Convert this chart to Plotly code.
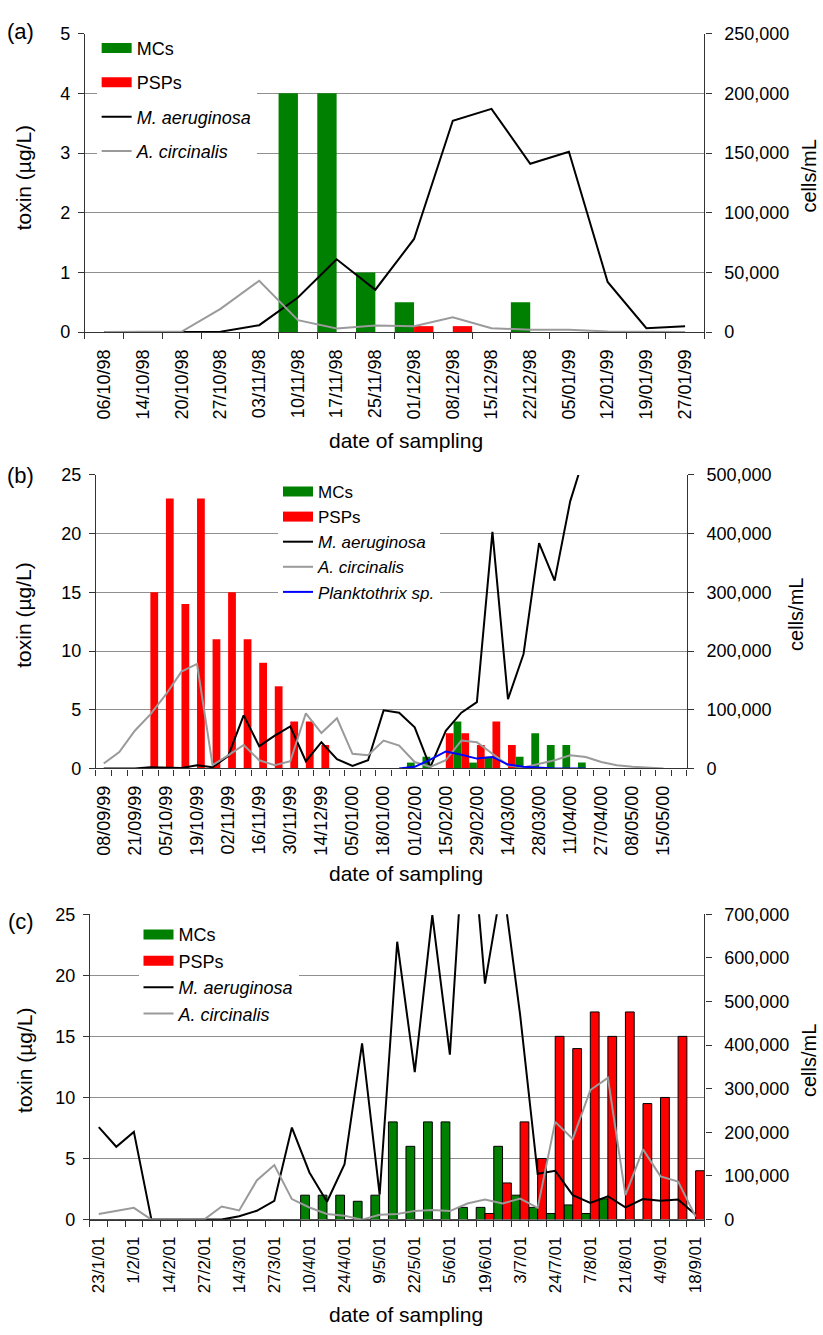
import plotly.graph_objects as go

W, H = 823, 1335
FONT = "Liberation Sans, Arial, sans-serif"
AXC = "#333333"
GRID = "#8f8f8f"
GREEN = "#008000"
RED = "#ff0000"
BLACK = "#000000"
GREY = "#9a9a9a"
BLUE = "#0000ff"

# ---------------- (a) 1998-99 ----------------
a_labels = ["06/10/98", "14/10/98", "20/10/98", "27/10/98", "03/11/98", "10/11/98",
            "17/11/98", "25/11/98", "01/12/98", "08/12/98", "15/12/98", "22/12/98",
            "05/01/99", "12/01/99", "19/01/99", "27/01/99"]
a_mcs = [0, 0, 0, 0, 0, 4, 4, 1, 0.5, 0, 0, 0.5, 0, 0, 0, 0]
a_psps = [0, 0, 0, 0, 0, 0, 0, 0, 0.1, 0.1, 0, 0, 0, 0, 0, 0]
a_maer = [0, 0, 0, 300, 5800, 29000, 61000, 35500, 78000, 177000, 187000, 141000,
          151000, 42000, 3300, 5000]
a_acir = [0, 0, 500, 19500, 43000, 10000, 3000, 5500, 5000, 12400, 3300, 2000,
          2000, 500, 0, 0]

# ---------------- (b) 1999-2000 (38 samples, every second one labelled) ----------------
b_labels = ["08/09/99", "21/09/99", "05/10/99", "19/10/99", "02/11/99", "16/11/99",
            "30/11/99", "14/12/99", "05/01/00", "18/01/00", "01/02/00", "15/02/00",
            "29/02/00", "14/03/00", "28/03/00", "11/04/00", "27/04/00", "08/05/00",
            "15/05/00"]
b_mcs = [0, 0, 0, 0, 0, 0, 0, 0, 0, 0, 0, 0, 0, 0, 0, 0, 0, 0, 0, 0,
         0.5, 1, 0, 4, 0.5, 1, 0, 1, 3, 2, 2, 0.5, 0, 0, 0, 0, 0, 0]
b_psps = [0, 0, 0, 15, 23, 14, 23, 11, 15, 11, 9, 7, 4, 4, 2, 0, 0, 0, 0, 0,
          0, 0, 3, 3, 2, 4, 2, 0, 0, 0, 0, 0, 0, 0, 0, 0, 0, 0]
b_maer = [0, 0, 0, 2000, 2000, 1000, 5600, 2000, 21000, 90500, 38000, 56000, 71500,
          12300, 44700, 15700, 4500, 14000, 99000, 95000, 70000, 2000, 64000, 95000,
          113000, 403000, 118000, 195000, 384000, 320000, 455000, 540000,
          None, None, None, None, None, None]
b_acir = [8400, 28000, 64300, 92000, 126000, 165000, 178000, 5600, 22400, 40000, 14000,
          5600, 12300, 94000, 60400, 85500, 25000, 22400, 47500, 39000, 11000, 2800,
          14000, 47500, 44700, 25000, 5600, 1700, 8400, 14000, 22400, 19600, 11000,
          5600, 2800, 1000, 0, None]
b_plank = [None] * 19 + [0, 2800, 15000, 29000, 23500, 16800, 19600, 6700, 2800, 1000,
                         0, 0, 0] + [None] * 6

# ---------------- (c) 2001 (35 samples, every second one labelled) ----------------
c_labels = ["23/1/01", "1/2/01", "14/2/01", "27/2/01", "14/3/01", "27/3/01", "10/4/01",
            "24/4/01", "9/5/01", "22/5/01", "5/6/01", "19/6/01", "3/7/01", "24/7/01",
            "7/8/01", "21/8/01", "4/9/01", "18/9/01"]
c_mcs = [0, 0, 0, 0, 0, 0, 0, 0, 0, 0, 0, 0, 2, 2, 2, 1.5, 2, 8, 6, 8, 8, 1, 1, 6, 2,
         1, 0.5, 1.2, 0.5, 1.7, 0, 0, 0, 0, 0]
c_psps = [0, 0, 0, 0, 0, 0, 0, 0, 0, 0, 0, 0, 0, 0, 0, 0, 0, 0, 0, 0, 0, 0, 0.5, 3, 8,
          5, 15, 14, 17, 15, 17, 9.5, 10, 15, 4]
c_maer = [212000, 167000, 201000, 0, 0, 0, 0, 0, 7500, 20300, 42900, 211000, 108000,
          41000, 127000, 404000, 57000, 637000, 338000, 698000, 378000, 1010000,
          541000, 777000, 470000, 105000, 112000, 56000, 38000, 53500, 28000, 47000,
          43000, 46000, 11000]
c_acir = [12800, 20300, 27000, 0, 0, 0, 0, 30000, 21000, 89600, 125000, 47000, 27800,
          12800, 9000, 0, 11300, 12800, 20000, 21900, 19600, 36800, 45900, 36800,
          48200, 27000, 224000, 185000, 297000, 325000, 56000, 161000, 99000, 87000,
          6800]


def xdom(left, right):
    return [left / W, right / W]


def ydom(top, bottom):
    return [1 - bottom / H, 1 - top / H]


def x_axis(dom, anchor, n, step, labels, size):
    return dict(domain=dom, anchor=anchor, range=[-0.5, n - 0.5],
                showgrid=False, zeroline=False, showline=True, linecolor=AXC,
                linewidth=1.2, tickmode="array",
                tickvals=list(range(0, n, step))[:len(labels)], ticktext=labels,
                ticks="", tickangle=-90, ticklabelstandoff=9,
                tickfont=dict(size=size, color="black", family=FONT),
                minor=dict(tickmode="array", tickvals=[k - 0.5 for k in range(n + 1)],
                           ticks="outside", ticklen=6, tickwidth=1.2, tickcolor=AXC,
                           showgrid=False))


def y_left(dom, anchor, top, dtick):
    return dict(domain=dom, anchor=anchor, range=[0, top], dtick=dtick, tick0=0,
                showgrid=True, gridcolor=GRID, gridwidth=1, zeroline=False,
                showline=True, linecolor=AXC, linewidth=1.2, ticks="outside",
                ticklen=6, tickwidth=1.2, tickcolor=AXC, ticklabelstandoff=4,
                tickfont=dict(size=18, color="black", family=FONT))


def y_right(overlay, anchor, top, dtick):
    return dict(overlaying=overlay, anchor=anchor, side="right", range=[0, top],
                dtick=dtick, tick0=0, tickformat=",d", showgrid=False, zeroline=False,
                showline=True, linecolor=AXC, linewidth=1.2, ticks="outside",
                ticklen=6, tickwidth=1.2, tickcolor=AXC, ticklabelstandoff=9,
                tickfont=dict(size=18, color="black", family=FONT))


fig = go.Figure()


def add_panel(tag, xa, ya, ya2, legend, mcs, psps, lines, outlined):
    n = len(mcs)
    idx = list(range(n))
    edge = dict(color="black", width=1) if outlined else dict(width=0)
    # legend keys for the bar series, drawn as wide blocks
    for nm, col in (("MCs", GREEN), ("PSPs", RED)):
        fig.add_trace(go.Scatter(x=[None], y=[None], mode="lines", name=nm,
                                 line=dict(color=col, width=10), xaxis=xa,
                                 yaxis=ya, legend=legend, legendgroup=tag + nm))
    fig.add_trace(go.Bar(x=idx, y=mcs, width=0.5, offset=-0.5, name="MCs",
                         marker=dict(color=GREEN, line=edge), xaxis=xa, yaxis=ya,
                         showlegend=False))
    fig.add_trace(go.Bar(x=idx, y=psps, width=0.5, offset=0, name="PSPs",
                         marker=dict(color=RED, line=edge), xaxis=xa, yaxis=ya,
                         showlegend=False))
    for nm, vals, col in lines:
        fig.add_trace(go.Scatter(x=idx, y=vals, mode="lines", name=nm,
                                 line=dict(color=col, width=2), connectgaps=False,
                                 xaxis=xa, yaxis=ya2, legend=legend,
                                 legendgroup=tag + nm))


add_panel("a", "x", "y", "y2", "legend", a_mcs, a_psps,
          [("<i>M. aeruginosa</i>", a_maer, BLACK),
           ("<i>A. circinalis</i>", a_acir, GREY)], False)
add_panel("b", "x2", "y3", "y4", "legend2", b_mcs, b_psps,
          [("<i>M. aeruginosa</i>", b_maer, BLACK),
           ("<i>A. circinalis</i>", b_acir, GREY),
           ("<i>Planktothrix sp.</i>", b_plank, BLUE)], False)
add_panel("c", "x3", "y5", "y6", "legend3", c_mcs, c_psps,
          [("<i>M. aeruginosa</i>", c_maer, BLACK),
           ("<i>A. circinalis</i>", c_acir, GREY)], True)


def legend_at(xpx, ypx, gap, size):
    return dict(x=xpx / W, y=1 - ypx / H, xanchor="left", yanchor="top",
                bgcolor="white", borderwidth=0,
                font=dict(size=size, color="black", family=FONT),
                tracegroupgap=gap, itemwidth=30, traceorder="grouped")


annotations = []


def text(s, xpx, ypx, size, angle=0):
    annotations.append(dict(text=s, x=xpx / W, y=1 - ypx / H, xref="paper",
                            yref="paper", showarrow=False, xanchor="center",
                            yanchor="middle", textangle=angle,
                            font=dict(size=size, color="black", family=FONT)))


for lab, ypx in (("(a)", 22), ("(b)", 473), ("(c)", 925)):
    text(lab, 19, ypx, 22)
for ypx in (170, 614, 1066):
    text("toxin (µg/L)", 22, ypx, 21, -90)
for xpx, ypx in ((810, 169), (797, 614), (810, 1067)):
    text("cells/mL", xpx, ypx, 20, -90)
for ypx in (437, 877, 1324):
    text("date of sampling", 405, ypx, 21)

fig.update_layout(
    width=W, height=H, autosize=False,
    margin=dict(l=0, r=0, t=0, b=0),
    paper_bgcolor="white", plot_bgcolor="white",
    font=dict(family=FONT, color="black"),
    barmode="overlay",
    xaxis=x_axis(xdom(83.3, 705), "y", 16, 1, a_labels, 18),
    yaxis=y_left(ydom(24, 327), "x", 5, 1),
    yaxis2=y_right("y", "x", 250000, 50000),
    xaxis2=x_axis(xdom(94.3, 687.3), "y3", 38, 2, b_labels, 18),
    yaxis3=y_left(ydom(472, 770), "x2", 25, 5),
    yaxis4=y_right("y3", "x2", 500000, 100000),
    xaxis3=x_axis(xdom(88.3, 705), "y5", 35, 2, c_labels, 17),
    yaxis5=y_left(ydom(918, 1228), "x3", 25, 5),
    yaxis6=y_right("y5", "x3", 700000, 100000),
    legend=legend_at(95, 20, 8, 18),
    legend2=legend_at(277, 471, 0, 17),
    legend3=legend_at(137, 920, 0, 18),
    annotations=annotations,
)

fig.write_html("out.html")
